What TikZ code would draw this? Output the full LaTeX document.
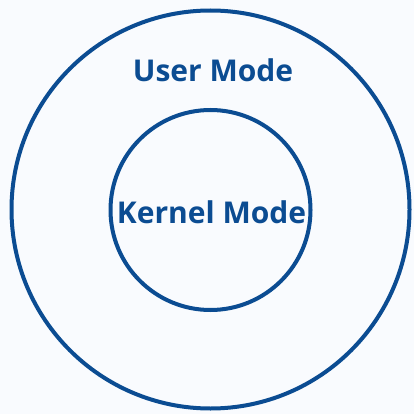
\documentclass[tikz,border=0pt]{standalone}
\usepackage{fontspec}
\setmainfont{Open Sans}
\definecolor{ringblue}{HTML}{0B4C92}
\definecolor{paper}{HTML}{F9FBFE}
\tikzset{every path/.style={line width=4pt}}
\tikzset{ring/.style={circle,draw=ringblue,inner sep=0pt}}
\tikzset{modelabel/.style={text=ringblue,font=\bfseries\fontsize{30}{31}\selectfont}}

\begin{document}
\begin{tikzpicture}[x=1pt,y=-1pt]
    \fill[paper] (0,0) rectangle (414,414);
    \useasboundingbox (0,0) rectangle (414,414);
    \node[ring,minimum size=398pt] (user) at (210.5,209.5) {};
    \node[ring,minimum size=200pt] (kernel) at (210.5,210) {};
    \node[modelabel] (userlbl) at (213,70) {User Mode};
    \node[modelabel] (kernellbl) at (211.5,212) {Kernel Mode};
  \end{tikzpicture}
\end{document}
